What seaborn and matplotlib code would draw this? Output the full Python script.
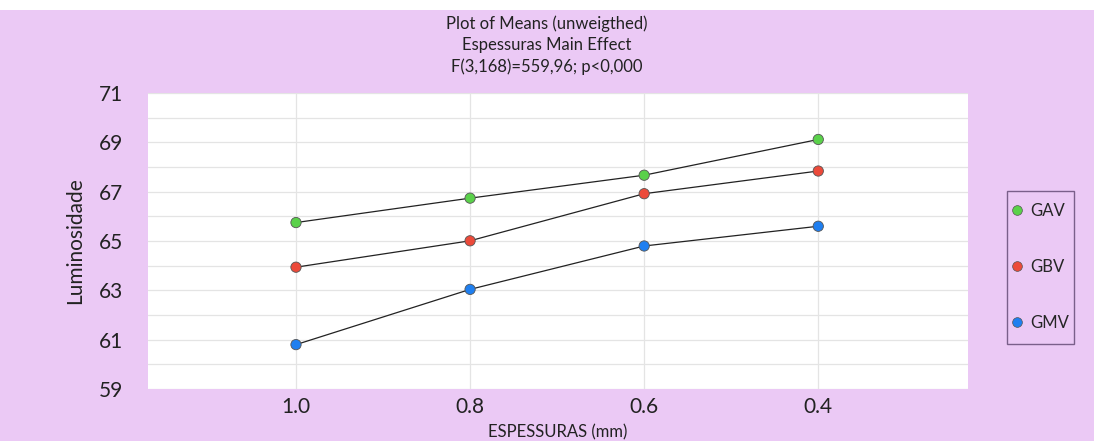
import numpy as np
import pandas as pd
import matplotlib
matplotlib.use("Agg")
import matplotlib.pyplot as plt
from matplotlib.lines import Line2D
from matplotlib.patches import Rectangle
import seaborn as sns

categories = ["1.0", "0.8", "0.6", "0.4"]
gav = [65.75, 66.74, 67.67, 69.12]
gbv = [63.94, 65.01, 66.92, 67.84]
gmv = [60.80, 63.04, 64.80, 65.60]
series_names = ["GAV", "GBV", "GMV"]
series_colors = ["#5ad14a", "#ec4a3a", "#1f7ff0"]
yticks = [59, 61, 63, 65, 67, 69, 71]

title = "Plot of Means (unweigthed)\nEspessuras Main Effect\nF(3,168)=559,96; p<0,000"

sns.set_theme(style="white")
plt.rcParams['font.family'] = ['Lato', 'DejaVu Sans']

bg = "#ebc9f5"
rows = []
for name, vals in zip(series_names, [gav, gbv, gmv]):
    for i, (c, v) in enumerate(zip(categories, vals)):
        rows.append({"pos": i, "cat": c, "val": v, "grupo": name})
df = pd.DataFrame(rows)

fig = plt.figure(figsize=(10.94, 4.41), dpi=100, facecolor=bg)
fig.patches.append(Rectangle((0, 1 - 10 / 441), 1, 10 / 441, transform=fig.transFigure,
                             facecolor="white", edgecolor="none", zorder=0))
ax = fig.add_axes([0.1353, 0.1179, 0.7495, 0.671])
ax.set_facecolor("white")

# grid
for y in range(59, 72):
    ax.axhline(y, color="#e4e4e4", lw=0.9, zorder=0)
for i in range(len(categories)):
    ax.axvline(i, color="#e4e4e4", lw=0.9, zorder=0)

sns.lineplot(data=df, x="pos", y="val", units="grupo", estimator=None,
             color="#222222", lw=0.9, ax=ax, legend=False, zorder=2)
sns.scatterplot(data=df, x="pos", y="val", hue="grupo", palette=series_colors,
                s=55, edgecolor="#555555", linewidth=0.6, ax=ax, legend=False, zorder=3)

ax.set_xlim(-0.85, 3.86)
ax.set_ylim(59, 71)
ax.set_xticks(range(len(categories)))
ax.set_xticklabels(categories)
ax.set_yticks(yticks)
ax.tick_params(axis="y", labelsize=15, pad=18, colors="#222222", length=0)
ax.tick_params(axis="x", labelsize=15, pad=6, colors="#222222", length=0)
for s in ax.spines.values():
    s.set_visible(False)
ax.set_xlabel("ESPESSURAS (mm)", fontsize=12, color="#222222", labelpad=5)
ax.set_ylabel("Luminosidade", fontsize=15, color="#222222", labelpad=10)

fig.text(0.5, 0.965, title, ha="center", va="top", fontsize=12, color="#222222",
         linespacing=1.4)

# legend frame box
fig.patches.append(Rectangle((1007 / 1094, 1 - 344 / 441), 67 / 1094, 153 / 441,
                             transform=fig.transFigure, facecolor=bg,
                             edgecolor="#7a5f8a", lw=1.0, zorder=1))
handles = [Line2D([], [], marker="o", ls="none", markersize=7, markerfacecolor=c,
                  markeredgecolor="#555555", markeredgewidth=0.5) for c in series_colors]
leg = fig.legend(handles, series_names, loc="center", bbox_to_anchor=(1039 / 1094, 1 - 267 / 441),
                 frameon=False, fontsize=12, labelspacing=2.4, handletextpad=0.3,
                 handlelength=1.0, borderpad=0.2)

fig.savefig("out.png", dpi=100, facecolor=bg)
